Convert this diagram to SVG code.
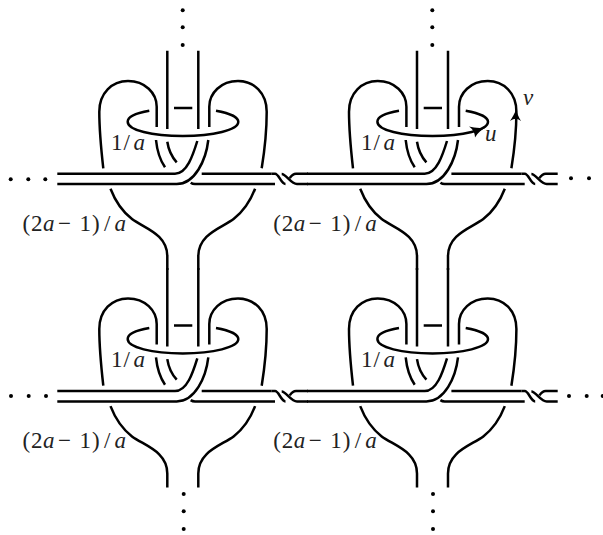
<svg xmlns="http://www.w3.org/2000/svg" width="603" height="535" viewBox="0 0 603 535">
<style>
.s{fill:none;stroke:#000;stroke-width:2.5;stroke-linecap:butt}
.t{font-family:"Liberation Serif",serif;font-size:23px;fill:#222}
.i{font-style:italic}
.d{fill:#000}
</style>
<defs>
<g id="cellshape">
<path class="s" d="M167.3,50.700V129M198.300,50.700V129M174,108H192.300"/>
<path class="s" d="M103.300,168.300C101,148 99.300,130 99.300,111.700C99.300,93 112,81 128,81C145,81 156.700,93 156.700,106.700V127"/>
<path class="s" d="M209.300,127V106.700C209.300,93 221,81 238,81C254,81 266.700,93 266.700,111.700C266.700,130 265,148 261.700,168.300"/>
<path class="s" d="M149.300,110.700C136,113 127.700,117 127.700,121.700C127.700,130 152,136 182.800,136C213,136 238.300,130 238.300,121.700C238.300,117 229,113 216,110.700"/>
<path class="s" d="M156,140C157,150 160,160 165,167.300M167.300,141.700C168.500,150 172,157 176.700,162.300"/>
<path class="s" d="M197.300,141C193,155 187,173.700 175,173.700H57.300M208.300,140C206,160 195,184 176.700,184H57.300"/>
<path class="s" d="M190.700,182.700C192,183.600 193.500,184 195,184H275M201.700,173.700H271.700"/>
</g>
<g id="tw">
<path class="s" d="M271.700,173.700H275C279,173.700 281,184 285.500,184"/>
<path class="s" d="M281.700,174C286,174 291,184 297,184H308M308,173.700H296C293,173.700 291.500,175.500 289.800,178"/>
</g>
<g id="lower">
<path class="s" d="M110.500,188.700C116,203 123,212 132,219C144,228 167.300,234 167.300,256V270"/>
<path class="s" d="M255.100,188.700C249.600,203 242.600,212 233.600,219C221.600,228 198.300,234 198.300,256V270"/>
</g>
</defs>
<g id="connectors">
<use href="#lower"/>
<use href="#lower" x="249.700"/>
<use href="#lower" y="217.400"/>
<use href="#lower" x="249.700" y="217.400"/>
<use href="#tw"/>
<use href="#tw" x="249.700"/>
<use href="#tw" y="217.400"/>
<use href="#tw" x="249.700" y="217.400"/>
</g>
<g id="cell-1">
<use href="#cellshape"/>
<text class="t" y="150"><tspan x="111">1</tspan><tspan x="123.500">/</tspan><tspan class="i" x="133.500">a</tspan></text>
<text class="t" y="230.600"><tspan x="22.500">(</tspan><tspan x="31">2</tspan><tspan class="i" x="43">a</tspan><tspan x="58">− </tspan><tspan x="79.500">1</tspan><tspan x="92">)</tspan><tspan x="104">/</tspan><tspan class="i" x="114.500">a</tspan></text>
</g>
<g id="cell-2">
<use href="#cellshape" x="249.700"/>
<text class="t" y="150"><tspan x="361">1</tspan><tspan x="373.500">/</tspan><tspan class="i" x="383.500">a</tspan></text>
<text class="t" y="230.600"><tspan x="273.200">(</tspan><tspan x="281.700">2</tspan><tspan class="i" x="293.700">a</tspan><tspan x="308.700">− </tspan><tspan x="330.200">1</tspan><tspan x="342.700">)</tspan><tspan x="354.700">/</tspan><tspan class="i" x="365.200">a</tspan></text>
<path class="d" d="M486.500,127.300C481,128.500 474,128 469,126.500C472.500,129 475,132.500 475,137.500C478,132.500 482,129.500 486.500,127.300Z"/>
<path class="d" d="M516,108.800C517,113.500 518.800,117.500 521,121C518.800,119.500 517.200,118.800 515.700,118.800C514.300,118.800 512.300,119.500 510,121C512.300,117.500 515,113.500 516,108.800Z"/>
<text class="t i" x="485" y="141">u</text>
<text class="t i" x="523" y="105">v</text>
</g>
<g id="cell-3">
<use href="#cellshape" y="217.400"/>
<text class="t" y="367.400"><tspan x="111">1</tspan><tspan x="123.500">/</tspan><tspan class="i" x="133.500">a</tspan></text>
<text class="t" y="448"><tspan x="22.500">(</tspan><tspan x="31">2</tspan><tspan class="i" x="43">a</tspan><tspan x="58">− </tspan><tspan x="79.500">1</tspan><tspan x="92">)</tspan><tspan x="104">/</tspan><tspan class="i" x="114.500">a</tspan></text>
</g>
<g id="cell-4">
<use href="#cellshape" x="249.700" y="217.400"/>
<text class="t" y="367.400"><tspan x="361">1</tspan><tspan x="373.500">/</tspan><tspan class="i" x="383.500">a</tspan></text>
<text class="t" y="448"><tspan x="273.200">(</tspan><tspan x="281.700">2</tspan><tspan class="i" x="293.700">a</tspan><tspan x="308.700">− </tspan><tspan x="330.200">1</tspan><tspan x="342.700">)</tspan><tspan x="354.700">/</tspan><tspan class="i" x="365.200">a</tspan></text>
</g>
<g id="dots">
<circle class="d" cx="182.700" cy="10.300" r="2"/><circle class="d" cx="182.700" cy="27.300" r="2"/><circle class="d" cx="182.700" cy="45" r="2"/>
<circle class="d" cx="432.300" cy="10.300" r="2"/><circle class="d" cx="432.300" cy="27.300" r="2"/><circle class="d" cx="432.300" cy="45" r="2"/>
<circle class="d" cx="183.700" cy="494" r="2"/><circle class="d" cx="183.700" cy="511.300" r="2"/><circle class="d" cx="183.700" cy="529" r="2"/>
<circle class="d" cx="433" cy="494" r="2"/><circle class="d" cx="433" cy="511.300" r="2"/><circle class="d" cx="433" cy="529" r="2"/>
<circle class="d" cx="10.700" cy="179.300" r="2"/><circle class="d" cx="28.300" cy="179.300" r="2"/><circle class="d" cx="45.300" cy="179.300" r="2"/>
<circle class="d" cx="11" cy="396" r="2"/><circle class="d" cx="28.700" cy="396" r="2"/><circle class="d" cx="46" cy="396" r="2"/>
<circle class="d" cx="571" cy="178.300" r="2"/><circle class="d" cx="589" cy="178.300" r="2"/>
<circle class="d" cx="569" cy="396" r="2"/><circle class="d" cx="586.700" cy="396" r="2"/><circle class="d" cx="602.700" cy="396" r="2"/>
</g>
</svg>
